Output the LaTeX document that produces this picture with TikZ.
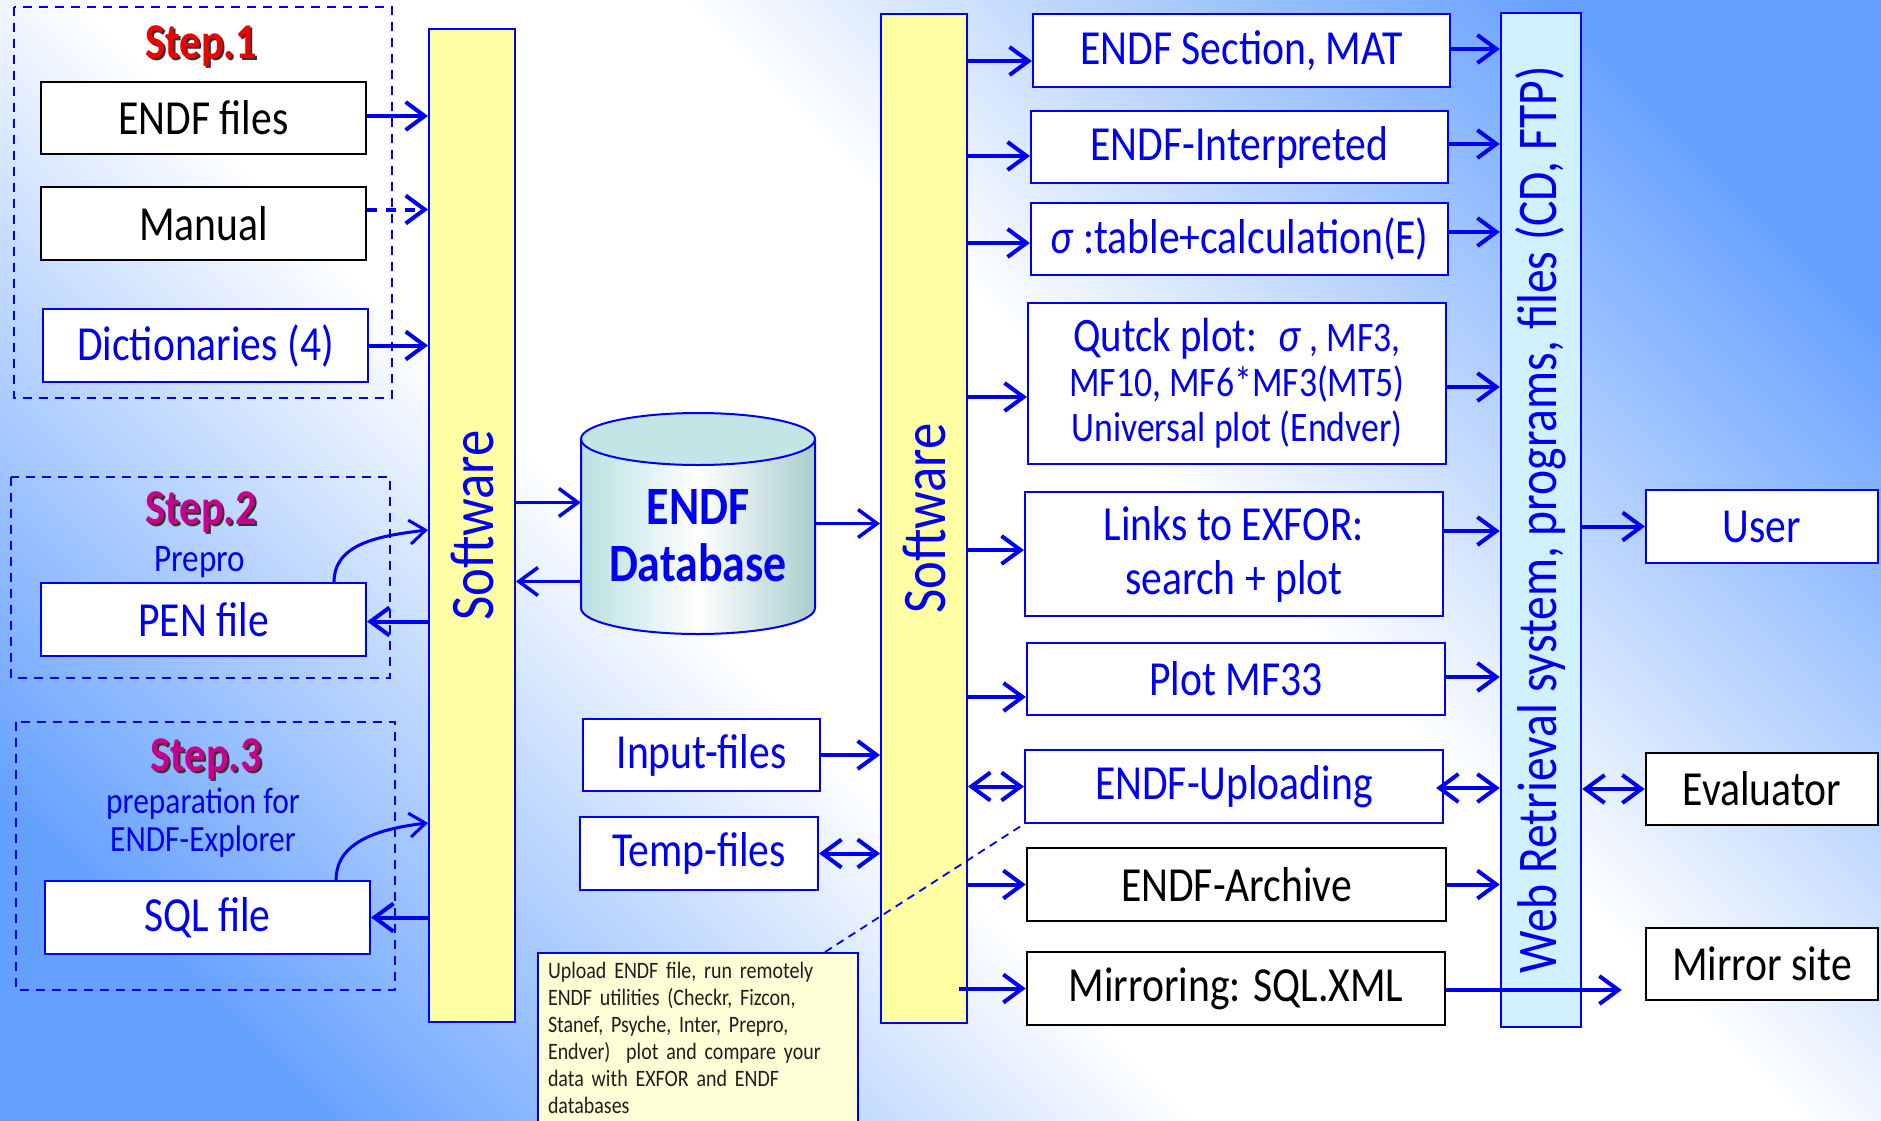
\documentclass[tikz,border=0pt]{standalone}
\usepackage{fontspec}
\setmainfont[FakeStretch=0.85]{Carlito}
\usetikzlibrary{arrows.meta,calc}

\definecolor{lineblue}{RGB}{0,0,240}
\definecolor{barfill}{RGB}{255,255,163}
\definecolor{webfill}{RGB}{206,240,255}
\definecolor{bgblue}{RGB}{100,160,255}
\definecolor{stepred}{RGB}{240,0,0}
\definecolor{stepmagenta}{RGB}{200,0,140}
\definecolor{notefill}{RGB}{255,255,215}
\definecolor{dbteal}{RGB}{185,224,226}
\definecolor{notetext}{RGB}{30,30,30}

\pgfdeclarehorizontalshading{bgshade}{100bp}{color(0bp)=(bgblue); color(22bp)=(bgblue);
  color(43bp)=(white); color(57bp)=(white); color(78bp)=(bgblue); color(100bp)=(bgblue)}

% coloured text with a dark drop shadow
\newcommand{\shadowtext}[2]{\rlap{\kern2pt\raisebox{-2pt}{\color{black!80}#2}}{\color{#1}#2}}

\tikzset{
  box/.style={draw=lineblue, fill=white, line width=2.2pt, text=lineblue,
    font=\fontsize{49}{54}\selectfont, inner sep=0pt, align=center},
  blackbox/.style={box, draw=black, line width=2.6pt, text=black},
  bar/.style={draw=lineblue, fill=barfill, line width=2pt, inner sep=0pt},
  bartext/.style={rotate=90, text=lineblue, font=\fontsize{62}{66}\selectfont},
  group/.style={draw=lineblue, line width=2pt, dash pattern=on 9pt off 7pt},
  steplabel/.style={font=\bfseries\fontsize{50}{52}\selectfont},
  sub/.style={text=lineblue, font=\fontsize{37}{38}\selectfont, align=center},
  arr/.style={lineblue, line width=4pt, -{Straight Barb[length=19pt,width=28pt]}},
  darr/.style={lineblue, line width=4pt,
    {Straight Barb[length=19pt,width=28pt]}-{Straight Barb[length=19pt,width=28pt]}},
  thinarr/.style={lineblue, line width=3pt, -{Straight Barb[length=16pt,width=24pt]}},
}

\begin{document}
\begin{tikzpicture}[x=1pt, y=-1pt]
  \useasboundingbox (0,0) rectangle (1881,1121);
  \clip (0,0) rectangle (1881,1121);
  \shade[shading=bgshade, shading angle=45] (0,0) rectangle (1881,1121);

  % step groups
  \draw[group] (14,7) rectangle (392,398);
  \draw[group] (11,477) rectangle (390,678);
  \draw[group] (16,722) rectangle (395,990);
  \node[steplabel] at (201,47) {\shadowtext{stepred}{Step.1}};
  \node[steplabel] at (201,513) {\shadowtext{stepmagenta}{Step.2}};
  \node[steplabel] at (206,760) {\shadowtext{stepmagenta}{Step.3}};
  \node[sub, font=\fontsize{39}{40}\selectfont] at (200,562) {Prepro};
  \node[sub] at (203,823) {preparation for\\ENDF-Explorer};

  % inputs
  \node[blackbox, minimum width=325pt, minimum height=72pt] (files) at (203.5,118) {ENDF files};
  \node[blackbox, minimum width=325pt, minimum height=73pt] (manual) at (203.5,223.5) {Manual};
  \node[box, minimum width=325pt, minimum height=73pt] (dict) at (205.5,345.5) {Dictionaries (4)};
  \node[box, minimum width=325pt, minimum height=73pt] (pen) at (203.5,619.5) {PEN file};
  \node[box, minimum width=325pt, minimum height=73pt] (sql) at (207.5,917.5) {SQL file};

  % software bars
  \node[bar, minimum width=86pt, minimum height=993pt] (sw1) at (472,525.5) {};
  \node[bartext] at (sw1) {Software};
  \node[bar, minimum width=86pt, minimum height=1009pt] (sw2) at (924,518.5) {};
  \node[bartext] at (sw2) {Software};

  % database cylinder
  \node[minimum width=234pt, minimum height=221pt, inner sep=0pt] (db) at (698,523.5) {};
  \shade[left color=dbteal, right color=dbteal!90!black!95, middle color=white]
    (581,439) -- (581,608) arc[start angle=180, end angle=360, x radius=117pt, y radius=26pt]
    -- (815,439) -- cycle;
  \draw[lineblue, line width=2pt]
    (581,439) -- (581,608) arc[start angle=180, end angle=360, x radius=117pt, y radius=26pt]
    -- (815,439);
  \draw[lineblue, line width=2pt, fill=dbteal!85!white] (698,439) ellipse[x radius=117pt, y radius=26pt];
  \node[text=lineblue, font=\bfseries\fontsize{54}{57}\selectfont, align=center]
    at ($(db)+(0,12)$) {ENDF\\Database};

  \node[box, minimum width=237pt, minimum height=72pt] (input) at (701.5,755) {Input-files};
  \node[box, minimum width=238pt, minimum height=73pt] (temp) at (699,853.5) {Temp-files};

  % outputs
  \node[box, minimum width=417pt, minimum height=73pt] (sec) at (1241.5,50.5) {ENDF Section, MAT};
  \node[box, minimum width=417pt, minimum height=72pt] (interp) at (1239.5,147) {ENDF-Interpreted};
  \node[box, minimum width=417pt, minimum height=72pt] (sigma) at (1239.5,239) {\textit{σ} :table+calculation(E)};
  \node[box, minimum width=418pt, minimum height=161pt, font=\fontsize{42}{45}\selectfont] (quick) at (1237,383.5)
    {{\fontsize{48}{45}\selectfont Qutck plot:~ \textit{σ}} , MF3,\\MF10, MF6*MF3(MT5)\\Universal plot (Endver)};
  \node[box, minimum width=418pt, minimum height=124pt] (links) at (1234,554) {Links to EXFOR:\\search + plot};
  \node[box, minimum width=418pt, minimum height=72pt] (mf33) at (1236,679) {Plot MF33};
  \node[box, minimum width=418pt, minimum height=73pt] (upload) at (1234,786.5) {ENDF-Uploading};
  \node[blackbox, minimum width=419pt, minimum height=73pt] (archive) at (1236.5,884.5) {ENDF-Archive};
  \node[blackbox, minimum width=418pt, minimum height=73pt] (mirror) at (1236,988.5) {Mirroring: SQL.XML};

  \node[bar, fill=webfill, line width=2.5pt, minimum width=80pt, minimum height=1014pt] (web) at (1541,520) {};
  \node[bartext, font=\fontsize{56}{60}\selectfont] at (web) {Web Retrieval system, programs, files (CD, FTP)};

  \node[box, minimum width=232pt, minimum height=73pt] (user) at (1762,526.5) {User};
  \node[blackbox, minimum width=232pt, minimum height=72pt] (evaluator) at (1762,789) {Evaluator};
  \node[blackbox, minimum width=232pt, minimum height=72pt] (mirrorsite) at (1762,964) {Mirror site};

  % note on uploading
  \node[draw=lineblue, fill=notefill, line width=2pt, anchor=north west, text width=300pt,
    align=left, inner xsep=10pt, inner ysep=9pt, text=notetext, font=\fontsize{23.5}{27}\selectfont]
    (note) at (537,952) {Upload ENDF file, run remotely\\ENDF utilities (Checkr, Fizcon,\\Stanef, Psyche, Inter, Prepro,\\Endver)\ \ plot and compare your\\data with EXFOR and ENDF\\databases};
  \draw[lineblue, line width=1.8pt, dash pattern=on 8pt off 6pt] ($(note.north east)+(-34,0)$) -- (upload.south west);

  % left side
  \draw[arr] ($(files.east)+(0,-2)$) -- ($(sw1.west |- files.east)+(0,-2)$);
  \draw[arr, dash pattern=on 10pt off 9pt] ($(manual.east)+(0,-14)$) -- ($(sw1.west |- manual.east)+(0,-14)$);
  \draw[arr] (dict.east) -- (sw1.west |- dict.east);
  \draw[thinarr] ([xshift=-33pt]pen.north east) .. controls +(0,-38) and +(-50,6) .. ($(sw1.west |- pen.north)+(0,-52)$);
  \draw[arr] ($(sw1.west |- pen.east)+(0,2)$) -- ($(pen.east)+(0,2)$);
  \draw[thinarr] ([xshift=-35pt]sql.north east) .. controls +(0,-38) and +(-50,6) .. ($(sw1.west |- sql.north)+(0,-57)$);
  \draw[arr] (sw1.west |- sql.east) -- (sql.east);

  % database
  \draw[arr, line width=3.5pt] ($(sw1.east |- db.west)+(0,-21)$) -- ($(db.west)+(0,-21)$);
  \draw[arr, line width=3.5pt] ($(db.west)+(0,58)$) -- ($(sw1.east |- db.west)+(0,58)$);
  \draw[arr, line width=3.5pt] (db.east) -- (sw2.west |- db.east);
  \draw[arr] (input.east) -- (sw2.west |- input.east);
  \draw[darr] (temp.east) -- (sw2.west |- temp.east);

  % software to outputs
  \draw[arr] ($(sw2.east |- sec.west)+(0,10.5)$) -- ($(sec.west)+(0,10.5)$);
  \draw[arr] ($(sw2.east |- interp.west)+(0,9)$) -- ($(interp.west)+(0,9)$);
  \draw[arr] ($(sw2.east |- sigma.west)+(0,4)$) -- ($(sigma.west)+(0,4)$);
  \draw[arr] ($(sw2.east |- quick.west)+(0,13.5)$) -- ($(quick.west)+(0,13.5)$);
  \draw[arr] ($(sw2.east |- links.west)+(0,-4)$) -- ($(links.west)+(0,-4)$);
  \draw[arr] ($(sw2.east |- mf33.west)+(0,18)$) -- ($(mf33.west)+(0,18)$);
  \draw[darr] (sw2.east |- upload.west) -- (upload.west);
  \draw[arr] (sw2.east |- archive.west) -- (archive.west);
  \draw[arr] ($(sw2.east |- mirror.west)+(-9,0)$) -- (mirror.west);

  % outputs to web system
  \draw[arr] ($(sec.east)+(0,-1.5)$) -- ($(web.west |- sec.east)+(0,-1.5)$);
  \draw[arr] ($(interp.east)+(0,-3)$) -- ($(web.west |- interp.east)+(0,-3)$);
  \draw[arr] ($(sigma.east)+(0,-7)$) -- ($(web.west |- sigma.east)+(0,-7)$);
  \draw[arr] ($(quick.east)+(0,3.5)$) -- ($(web.west |- quick.east)+(0,3.5)$);
  \draw[arr] ($(links.east)+(0,-23)$) -- ($(web.west |- links.east)+(0,-23)$);
  \draw[arr] ($(mf33.east)+(0,-2)$) -- ($(web.west |- mf33.east)+(0,-2)$);
  \draw[darr] ($(upload.east)+(-8,1.5)$) -- ($(web.west |- upload.east)+(0,1.5)$);
  \draw[arr] (archive.east) -- (web.west |- archive.east);
  \draw[arr] ($(mirror.east)+(0,1.5)$) -- ($(mirrorsite.west |- mirror.east)+(-23,1.5)$);

  % web system to people
  \draw[arr] (web.east |- user.west) -- (user.west);
  \draw[darr] (web.east |- evaluator.west) -- (evaluator.west);
\end{tikzpicture}
\end{document}
